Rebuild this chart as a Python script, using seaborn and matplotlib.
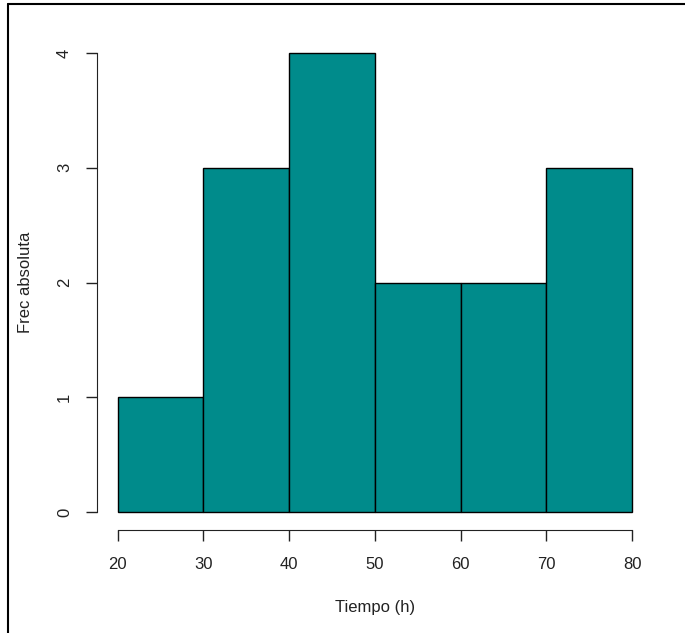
import numpy as np
import matplotlib
matplotlib.use("Agg")
import matplotlib.pyplot as plt
import seaborn as sns
from matplotlib.lines import Line2D

# Histogram data (Tiempo en horas)
bin_edges = [20, 30, 40, 50, 60, 70, 80]
bin_mids = [25, 35, 45, 55, 65, 75]
counts = [1, 3, 4, 2, 2, 3]
x_ticks = [20, 30, 40, 50, 60, 70, 80]
y_ticks = [0, 1, 2, 3, 4]

sns.set_style("ticks")
plt.rcParams['font.family'] = ['Liberation Sans', 'DejaVu Sans']

fig = plt.figure(figsize=(6.85, 6.33), dpi=100)
ax = fig.add_axes([0.1416, 0.1621, 0.8111, 0.7832])

sns.histplot(x=bin_mids, weights=counts, bins=bin_edges, ax=ax,
             color='#008B8B', alpha=1, edgecolor='black', linewidth=1)

ax.set_xlim(17.6, 82.4)
ax.set_ylim(-0.16, 4.16)
ax.set_xticks(x_ticks)
ax.set_yticks(y_ticks)
ax.set_yticklabels([str(v) for v in y_ticks], rotation=90, va='center')
ax.tick_params(axis='both', length=8, width=1, labelsize=12, colors='#222222',
               labelcolor='#222222')
ax.tick_params(axis='x', pad=11)
ax.tick_params(axis='y', pad=10)

for side in ['top', 'right']:
    ax.spines[side].set_visible(False)
ax.spines['left'].set_bounds(0, 4)
ax.spines['bottom'].set_bounds(20, 80)
ax.spines['left'].set_color('#222222')
ax.spines['bottom'].set_color('#222222')

ax.set_xlabel('Tiempo (h)', fontsize=12, labelpad=20, color='#222222')
ax.set_ylabel('Frec absoluta', fontsize=12, labelpad=17, color='#222222')

# screenshot frame
fig.add_artist(Line2D([8 / 685, 8 / 685], [0, 1 - 4 / 633], color='black', lw=1.5))
fig.add_artist(Line2D([8 / 685, 1], [1 - 4 / 633, 1 - 4 / 633], color='black', lw=1.5))

fig.savefig('out.png', dpi=100)
plt.close(fig)
